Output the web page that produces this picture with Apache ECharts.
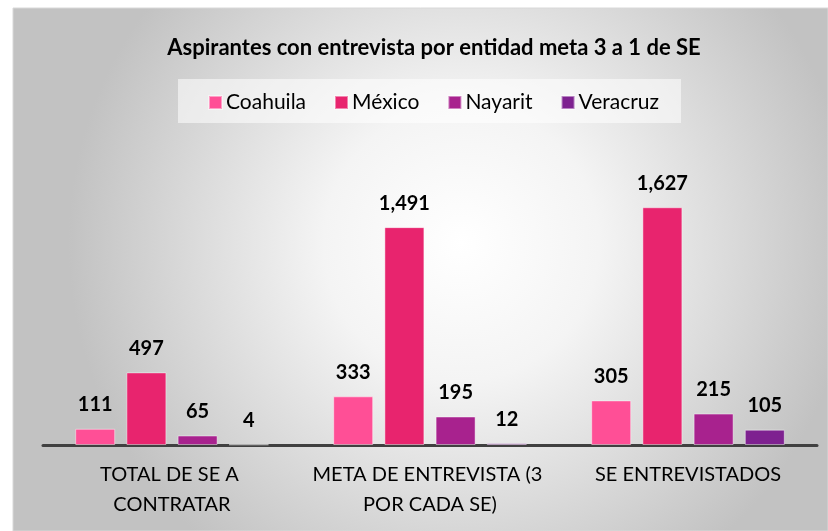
<!DOCTYPE html>
<html>
<head>
<meta charset="utf-8">
<script src="https://cdn.jsdelivr.net/npm/echarts@6/dist/echarts.min.js"></script>
<style>
  html, body { margin: 0; padding: 0; background: #fff; }
  #main { width: 828px; height: 531px; }
</style>
</head>
<body>
<div id="main"></div>
<script>
// datos de la grafica
const categories = ['TOTAL DE SE A CONTRATAR', 'META DE ENTREVISTA (3 POR CADA SE)', 'SE ENTREVISTADOS'];
const states = ['Coahuila', 'México', 'Nayarit', 'Veracruz'];
const coahuila = [111, 333, 305];
const mexico = [497, 1491, 1627];
const nayarit = [65, 195, 215];
const veracruz = [4, 12, 105];
const colors = ['#FF4F96', '#E8246E', '#A8228E', '#7E2190'];

const font = 'Lato, "Open Sans", sans-serif';
const chart = echarts.init(document.getElementById('main'));

function makeSeries(name, values, idx) {
  return {
    name: name,
    type: 'bar',
    data: values,
    barWidth: 40,
    barGap: '28%',
    itemStyle: {
      color: colors[idx],
      borderColor: 'rgba(255,255,255,0.45)',
      borderWidth: 1
    },
    label: {
      show: true,
      position: 'top',
      distance: 14,
      fontFamily: font,
      fontWeight: 'bold',
      fontSize: 20,
      color: '#000',
      formatter: p => p.value.toLocaleString('en-US')
    }
  };
}

const option = {
  backgroundColor: '#fff',
  animation: false,
  graphic: [
    {
      type: 'rect',
      z: -10,
      shape: { x: 13, y: 8, width: 815, height: 523 },
      style: {
        fill: new echarts.graphic.RadialGradient(0.55, 0.45, 0.75, [
          { offset: 0, color: '#ffffff' },
          { offset: 0.35, color: '#f4f4f4' },
          { offset: 1, color: '#c2c2c2' }
        ]),
        stroke: '#d8d8d8',
        lineWidth: 1
      }
    },
    {
      type: 'rect',
      z: -9,
      shape: { x: 178, y: 79, width: 503, height: 44 },
      style: { fill: 'rgba(255,255,255,0.55)' }
    }
  ],
  title: {
    text: 'Aspirantes con entrevista por entidad meta 3 a 1 de SE',
    left: 429,
    textAlign: 'center',
    top: 32,
    textStyle: { fontFamily: font, fontWeight: 'bold', fontSize: 22, color: '#000' }
  },
  legend: {
    data: states,
    top: 87,
    left: 203,
    itemWidth: 13,
    itemHeight: 13,
    itemGap: 28,
    icon: 'rect',
    textStyle: { fontFamily: font, fontSize: 21, color: '#000', padding: [0, 0, 0, -1] }
  },
  grid: { left: 43, right: 11, top: 182, bottom: 86 },
  xAxis: {
    type: 'category',
    data: categories,
    axisLine: { lineStyle: { color: '#404040', width: 3 } },
    axisTick: { show: false },
    axisLabel: {
      fontFamily: font,
      fontSize: 20,
      color: '#000',
      margin: 15,
      lineHeight: 30,
      width: 250,
      overflow: 'break',
      interval: 0
    }
  },
  yAxis: {
    type: 'value',
    min: 0,
    max: 1800,
    interval: 200,
    show: false
  },
  series: [
    makeSeries(states[0], coahuila, 0),
    makeSeries(states[1], mexico, 1),
    makeSeries(states[2], nayarit, 2),
    makeSeries(states[3], veracruz, 3)
  ]
};

chart.setOption(option);
</script>
</body>
</html>
